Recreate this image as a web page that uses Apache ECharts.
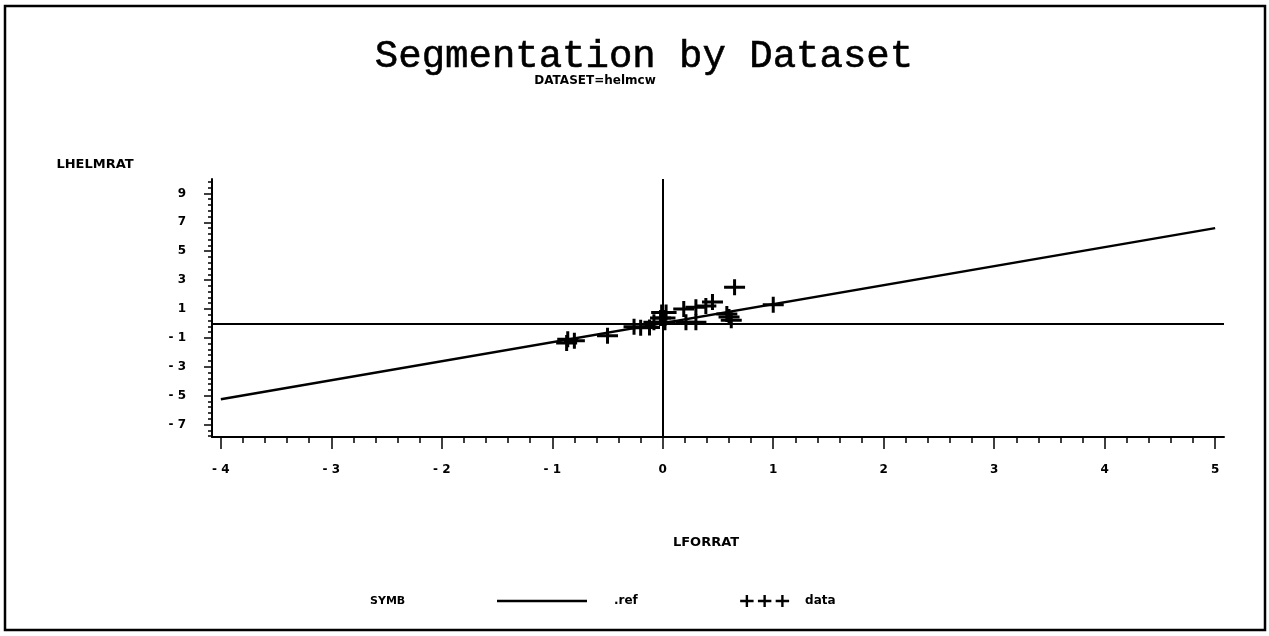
<!DOCTYPE html>
<html>
<head>
<meta charset="utf-8">
<script src="https://cdn.jsdelivr.net/npm/echarts@6/dist/echarts.min.js"></script>
<style>
  html, body { margin: 0; padding: 0; background: #fff; }
  #chart { width: 1269px; height: 636px; }
</style>
</head>
<body>
<div id="chart"></div>
<script>
// Tick labels of both axes
const xTicks = [-4, -3, -2, -1, 0, 1, 2, 3, 4, 5];
const yTicks = [-7, -5, -3, -1, 1, 3, 5, 7, 9];

// Fitted reference line (.ref), end points
const refX = [-4, 5];
const refY = [-5.25, 6.6];

// Observed points (data): LFORRAT vs LHELMRAT
const dataX = [0.65, -0.87, -0.86, -0.80, -0.50, -0.20, -0.12, -0.26, -0.01, 0.03,
               -0.02, 0.02, -0.08, 0.02, 0.19, 0.30, 0.39, 0.45, 0.21, 0.30,
               0.58, 0.60, 0.62, 1.00];
const dataY = [2.50, -1.35, -1.10, -1.20, -0.85, -0.30, -0.28, -0.22, 0.75, 0.75,
               0.37, 0.37, 0.08, 0.08, 1.00, 1.12, 1.20, 1.48, 0.08, 0.08,
               0.65, 0.45, 0.22, 1.30];

// Minor tick positions between the labelled ticks
function minorTicks(from, to, step, majors) {
  const out = [];
  for (let v = from; v <= to + 1e-9; v += step) {
    const r = Math.round(v * 100) / 100;
    if (!majors.some(m => Math.abs(m - r) < 1e-6)) out.push(r);
  }
  return out;
}
const xMinor = minorTicks(-4, 5, 0.2, xTicks);
const yMinor = minorTicks(-7.8, 9.8, 0.4, yTicks);

const X_MIN = -4.08, X_MAX = 5.08, Y_MIN = -7.86, Y_MAX = 10;

const sans = '"DejaVu Sans", sans-serif';
const boldText = { fontFamily: sans, fontWeight: 'bold', color: '#000' };
const axisColor = '#000';

const fmt = v => (v < 0 ? '- ' + Math.abs(v) : String(v));

// Plus-sign marker, a three-plus legend glyph and a plain line glyph
const plusPath = 'path://M0,6.5h21v3h-21z M9,0h3v16h-3z';
function plusAt(cx) {
  return 'M' + (cx - 7) + ',5h14v2.5h-14z M' + (cx - 1.25) + ',0h2.5v12.5h-2.5z';
}
const plusLegend = 'path://M0,0 M90,12.5 ' + [36.5, 55, 73.5].map(plusAt).join(' ');
const lineLegend = 'path://M0,0h90v2.5h-90z';

const chart = echarts.init(document.getElementById('chart'), null, { renderer: 'canvas' });

const option = {
  animation: false,
  backgroundColor: '#fff',
  title: [
    {
      text: 'Segmentation by Dataset',
      left: 644, top: 37, padding: 0, textAlign: 'center',
      textStyle: { fontFamily: '"Liberation Mono", monospace', fontSize: 39, fontWeight: 'normal', color: '#000', textBorderColor: '#000', textBorderWidth: 0.6 }
    },
    {
      text: 'DATASET=helmcw',
      left: 595, top: 75, padding: 0, textAlign: 'center',
      textStyle: Object.assign({}, boldText, { fontSize: 12 })
    }
  ],
  grid: { left: 212, right: 45, top: 179, bottom: 199, containLabel: false },
  xAxis: [
    {
      type: 'value', min: X_MIN, max: X_MAX, position: 'bottom',
      name: 'LFORRAT', nameLocation: 'middle', nameGap: 99,
      nameTextStyle: Object.assign({}, boldText, { fontSize: 13, padding: [0, 24, 0, 0] }),
      axisLine: { show: true, onZero: false, lineStyle: { color: axisColor, width: 2 } },
      axisTick: { show: true, inside: false, length: 12, customValues: xTicks, lineStyle: { color: axisColor, width: 1.5 } },
      axisLabel: Object.assign({ customValues: xTicks, margin: 27, formatter: fmt, fontSize: 12 }, boldText),
      splitLine: { show: false }
    },
    {
      type: 'value', min: X_MIN, max: X_MAX, position: 'bottom',
      axisLine: { show: false, onZero: false },
      axisTick: { show: true, inside: false, length: 6, customValues: xMinor, lineStyle: { color: axisColor, width: 1.5 } },
      axisLabel: { show: false },
      splitLine: { show: false }
    }
  ],
  yAxis: [
    {
      type: 'value', min: Y_MIN, max: Y_MAX, position: 'left',
      name: 'LHELMRAT', nameLocation: 'end', nameGap: 14,
      nameTextStyle: Object.assign({}, boldText, { fontSize: 13, align: 'center', verticalAlign: 'middle', padding: [0, 234, 0, 0] }),
      axisLine: { show: true, onZero: false, lineStyle: { color: axisColor, width: 2 } },
      axisTick: { show: true, inside: false, length: 8, customValues: yTicks, lineStyle: { color: axisColor, width: 1.5 } },
      axisLabel: Object.assign({ customValues: yTicks, margin: 26, formatter: fmt, fontSize: 12 }, boldText),
      splitLine: { show: false }
    },
    {
      type: 'value', min: Y_MIN, max: Y_MAX, position: 'left',
      axisLine: { show: false, onZero: false },
      axisTick: { show: true, inside: false, length: 4, customValues: yMinor, lineStyle: { color: axisColor, width: 1.5 } },
      axisLabel: { show: false },
      splitLine: { show: false }
    }
  ],
  legend: {
    left: 497, top: 595, padding: 0,
    itemWidth: 90, itemHeight: 12, itemGap: 74,
    selectedMode: false,
    textStyle: Object.assign({}, boldText, { fontSize: 12 }),
    data: [
      { name: '.ref', icon: lineLegend, itemStyle: { color: '#000' }, textStyle: { padding: [0, 0, 0, 22] } },
      { name: 'data', icon: plusLegend, itemStyle: { color: '#000' } }
    ]
  },
  graphic: [
    {
      type: 'rect', silent: true,
      shape: { x: 5, y: 6, width: 1260, height: 624 },
      style: { fill: 'none', stroke: '#000', lineWidth: 2.5 }
    },
    {
      type: 'text', silent: true, x: 370, y: 601,
      style: { text: 'SYMB', fill: '#000', font: 'bold 11px ' + sans, textAlign: 'left', textVerticalAlign: 'middle' }
    }
  ],
  series: [
    {
      name: '.ref', type: 'line', xAxisIndex: 0, yAxisIndex: 0,
      data: refX.map((x, i) => [x, refY[i]]),
      symbol: 'none', showSymbol: false,
      lineStyle: { color: '#000', width: 2.5 },
      itemStyle: { color: '#000' },
      markLine: {
        silent: true, symbol: 'none', label: { show: false },
        lineStyle: { color: '#000', width: 2, type: 'solid' },
        data: [{ xAxis: 0 }, { yAxis: 0 }]
      },
      z: 2
    },
    {
      name: 'data', type: 'scatter', xAxisIndex: 0, yAxisIndex: 0,
      data: dataX.map((x, i) => [x, dataY[i]]),
      symbol: plusPath, symbolSize: [21, 16],
      itemStyle: { color: '#000', opacity: 1 },
      z: 3
    }
  ]
};

chart.setOption(option);
</script>
</body>
</html>
